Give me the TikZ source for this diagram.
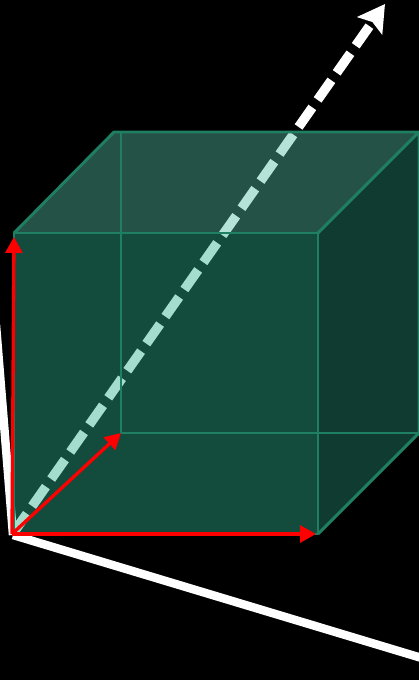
\documentclass[tikz,border=0pt]{standalone}
\usepackage{xcolor}
\usetikzlibrary{arrows.meta}
\definecolor{frontColor}{RGB}{46,174,140}
\definecolor{topColor}{RGB}{88,192,166}
\definecolor{sideColor}{HTML}{0F3B30}
\definecolor{edgeColor}{HTML}{1F7F63}
\tikzset{
    axisline/.style={white, line width=4.8pt},
    facefill/.style={fill opacity=0.43},
    cubeedge/.style={edgeColor, line width=1.65pt, line join=round},
    basisarrow/.style={red, line width=1.9pt, -{Triangle[length=9pt, width=9.5pt]}}
}

\begin{document}
\begin{tikzpicture}[x=0.02cm, y=-0.02cm]
    \clip (0, 0) rectangle (419, 680);
    \fill[black] (0, 0) rectangle (419, 680);

    \coordinate (origin) at (12, 534);
    \coordinate (axisA) at (-4, 325);
    \coordinate (axisB) at (425, 659);
    \coordinate (axisStart) at (13, 535);
    \coordinate (resultStart) at (14, 532);
    \coordinate (resultTip) at (385, 4);

    \coordinate (fbl) at (14, 534);
    \coordinate (fbr) at (318, 534);
    \coordinate (ftl) at (14, 233);
    \coordinate (ftr) at (318, 233);
    \coordinate (bbl) at (121, 433);
    \coordinate (bbr) at (419, 433);
    \coordinate (btl) at (114, 132);
    \coordinate (btr) at (419, 132);
    \coordinate (bvt) at (121, 132);

    \draw[axisline] (axisStart) -- (axisA);
    \draw[axisline] (axisStart) -- (axisB);
    \draw[white, line width=5.4pt, dash pattern=on 13.6pt off 5.24pt, dash phase=0.85pt,
        -{Stealth[length=15pt, width=17pt, inset=2.5pt]}] (resultStart) -- (resultTip);

    \fill[frontColor, facefill] (fbl) -- (ftl) -- (ftr) -- (fbr) -- cycle;
    \fill[topColor, facefill] (ftl) -- (btl) -- (btr) -- (ftr) -- cycle;
    \fill[sideColor] (ftr) -- (btr) -- (bbr) -- (fbr) -- cycle;

    \draw[cubeedge] (fbl) -- (ftl) -- (ftr) -- (fbr) -- cycle;
    \draw[cubeedge] (ftl) -- (btl) -- (btr) -- (ftr);
    \draw[cubeedge] (btr) -- (bbr) -- (fbr);
    \draw[cubeedge] (bvt) -- (bbl) -- (bbr);

    \draw[basisarrow] (origin) -- (14, 237);
    \draw[basisarrow] (origin) -- (bbl);
    \draw[basisarrow] (origin) -- (316, 534);
\end{tikzpicture}
\end{document}
